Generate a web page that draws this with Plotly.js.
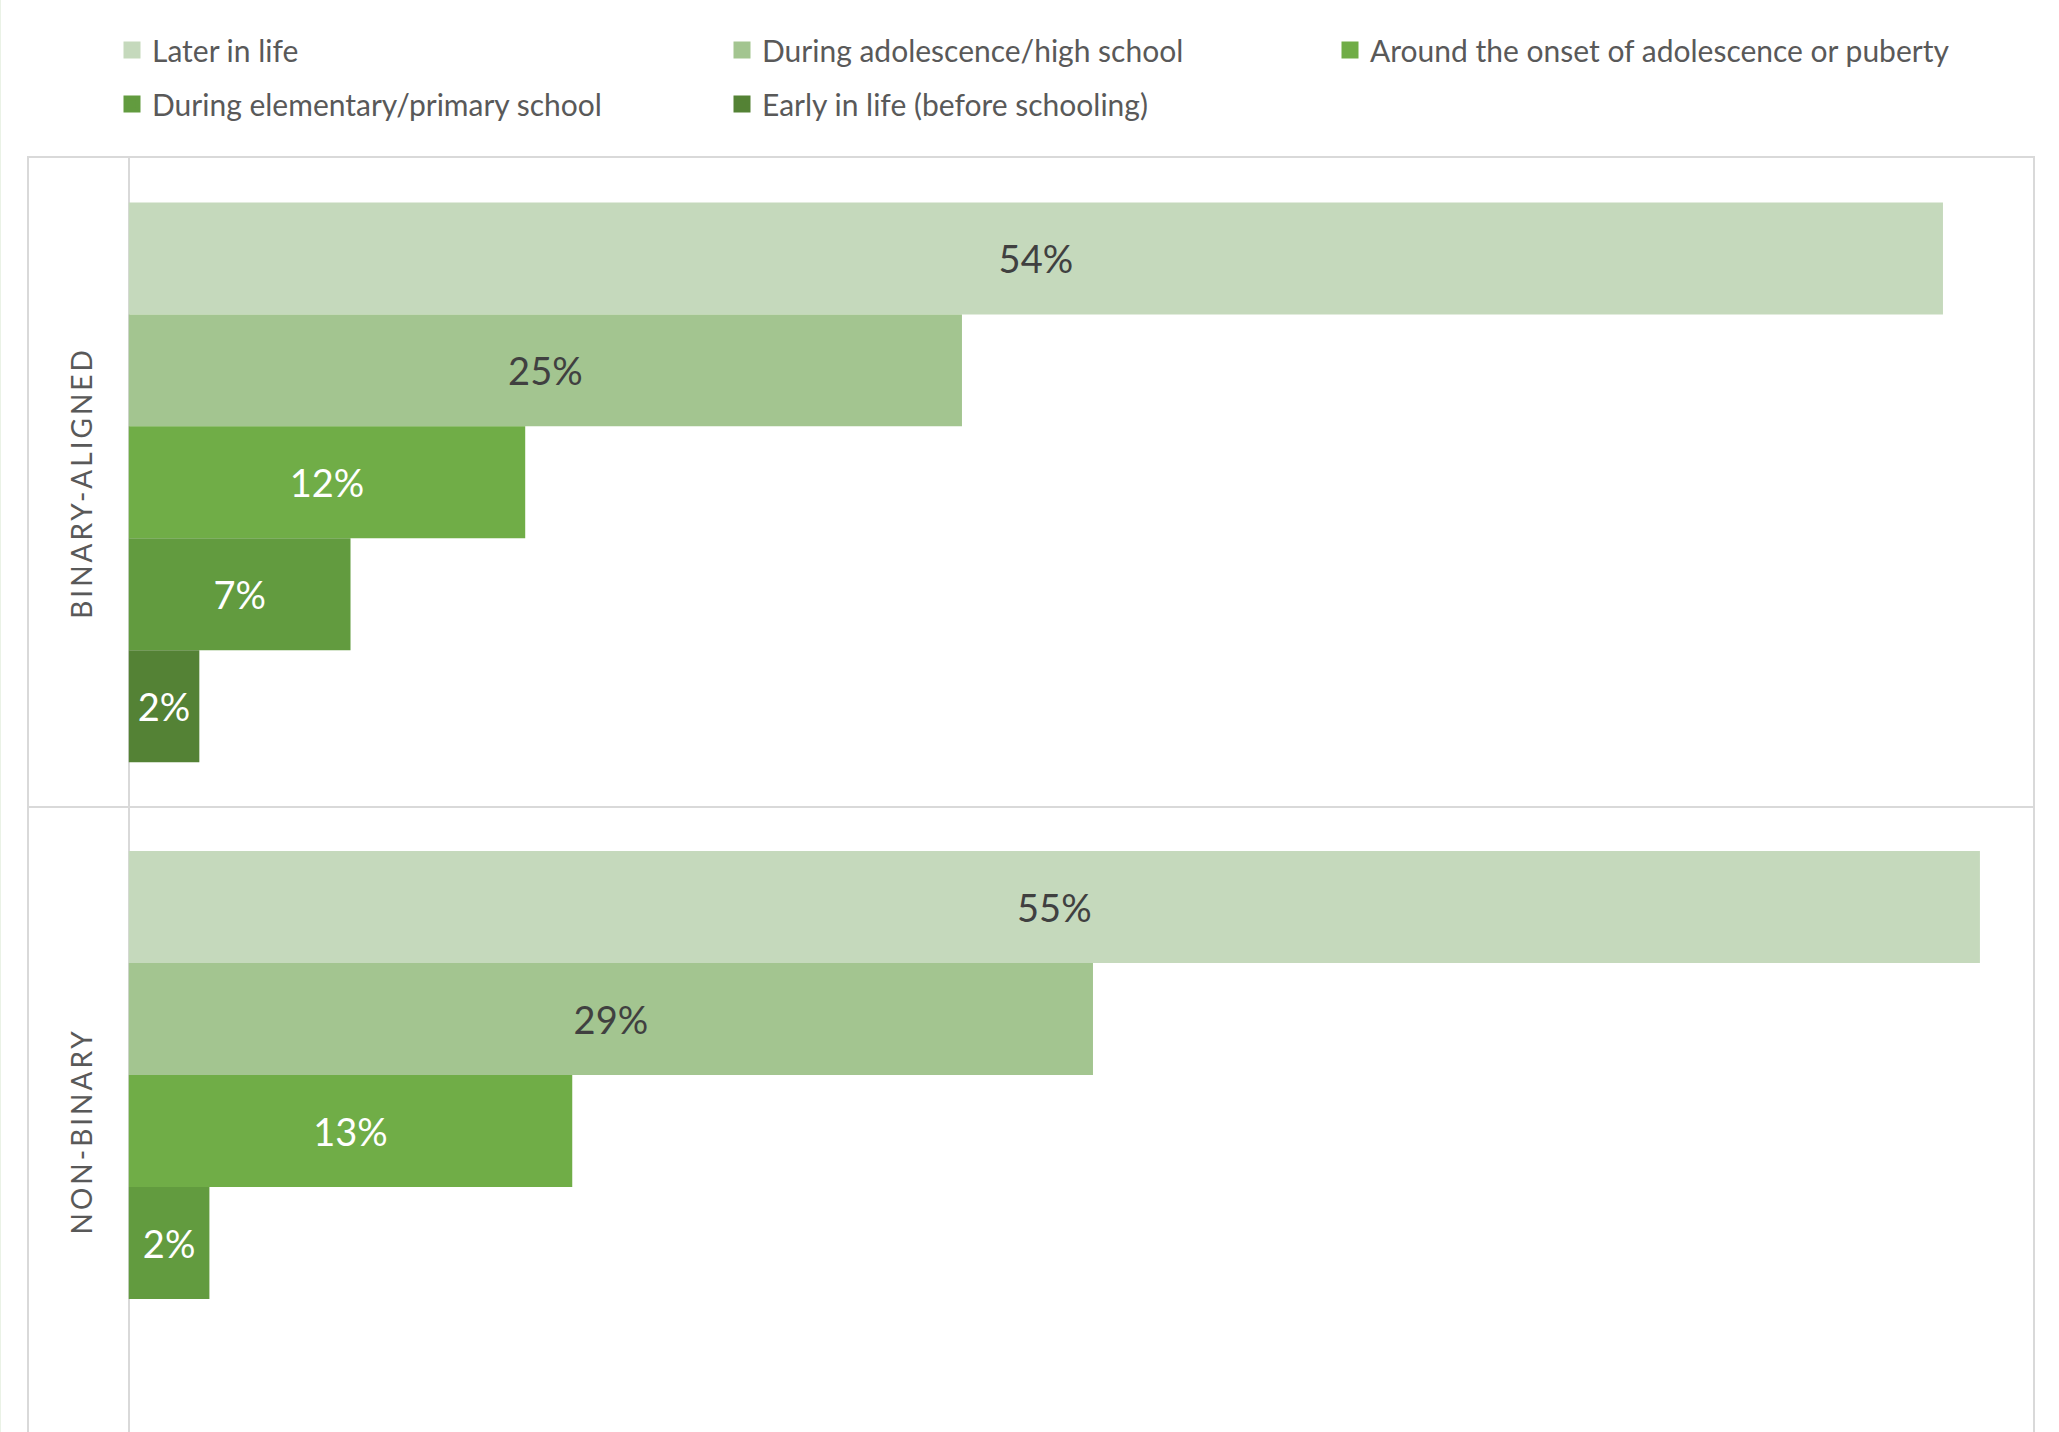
<!DOCTYPE html>
<html>
<head>
<meta charset="utf-8">
<script src="https://cdn.plot.ly/plotly-3.0.1.min.js"></script>
<style>
html, body { margin: 0; padding: 0; background: #ffffff; }
#chart { width: 2059px; height: 1432px; }
.annotation-text { letter-spacing: 3px; }
.legendpoints path { stroke-width: 5px !important; }
</style>
</head>
<body>
<div id="chart"></div>
<script>
// ---- Data ----
const groups = ["Binary-aligned", "Non-binary"];
const groupLabels = ["BINARY-ALIGNED", "NON-BINARY"];
const seriesNames = [
  "Later in life",
  "During adolescence/high school",
  "Around the onset of adolescence or puberty",
  "During elementary/primary school",
  "Early in life (before schooling)"
];
const laterInLife       = [54.0, 55.1];
const duringAdolescence = [24.8, 28.7];
const onsetOfPuberty    = [11.8, 13.2];
const elementarySchool  = [6.6, 2.4];
const earlyInLife       = [2.1, null];

// ---- Styling ----
const seriesValues = [laterInLife, duringAdolescence, onsetOfPuberty, elementarySchool, earlyInLife];
const seriesColors = ["#C5D9BC", "#A3C590", "#70AD47", "#629B3F", "#548235"];
const labelColors  = ["#404040", "#404040", "#FFFFFF", "#FFFFFF", "#FFFFFF"];
const legendOf     = ["legend", "legend", "legend3", "legend2", "legend2"];
const FONT = "Lato, 'Open Sans', sans-serif";
const GRID = "#D9D9D9";

const traces = seriesValues.map((vals, i) => ({
  type: "bar",
  orientation: "h",
  name: seriesNames[i],
  x: vals,
  y: groups,
  marker: { color: seriesColors[i], line: { width: 0.01, color: seriesColors[i] } },
  texttemplate: "%{x:.0f}%",
  textposition: "inside",
  insidetextanchor: "middle",
  textangle: 0,
  textfont: { family: FONT, size: 38, color: labelColors[i] },
  hoverinfo: "skip",
  legend: legendOf[i]
}));

const legendBase = {
  orientation: "h",
  xref: "container",
  yref: "container",
  xanchor: "left",
  yanchor: "middle",
  entrywidth: 565,
  entrywidthmode: "pixels",
  bgcolor: "rgba(0,0,0,0)",
  borderwidth: 0,
  traceorder: "normal",
  font: { family: FONT, size: 30, color: "#595959" }
};

const plotW = 2059 - 29 - 26;
const plotH = 1432 - 158;

const layout = {
  width: 2059,
  height: 1432,
  margin: { l: 29, r: 26, t: 158, b: 0, autoexpand: false },
  paper_bgcolor: "#ffffff",
  plot_bgcolor: "#ffffff",
  barmode: "group",
  bargap: 0.137,
  bargroupgap: 0,
  showlegend: true,
  legend:  Object.assign({}, legendBase, { x: 112 / 2059, y: 1 - 50 / 1432 }),
  legend2: Object.assign({}, legendBase, { x: 112 / 2059, y: 1 - 104 / 1432 }),
  legend3: Object.assign({}, legendBase, { x: 1330 / 2059, y: 1 - 50 / 1432, entrywidth: 680 }),
  xaxis: {
    range: [-2.97, 56.68],
    side: "top",
    showgrid: false,
    zeroline: true,
    zerolinecolor: GRID,
    zerolinewidth: 2,
    showticklabels: false,
    ticks: "",
    showline: true,
    linecolor: GRID,
    linewidth: 2,
    fixedrange: true
  },
  yaxis: {
    type: "category",
    categoryorder: "array",
    categoryarray: groups,
    range: [1.464, -0.5],
    tickson: "boundaries",
    showgrid: true,
    gridcolor: GRID,
    gridwidth: 2,
    showticklabels: false,
    ticks: "",
    showline: true,
    mirror: true,
    linecolor: GRID,
    linewidth: 2,
    zeroline: false,
    fixedrange: true
  },
  shapes: [{
    type: "line", xref: "paper", yref: "paper",
    x0: -28.5 / plotW, x1: -28.5 / plotW,
    y0: 0, y1: 1 + 158 / plotH,
    line: { color: "#EAF2E6", width: 1 }
  }],
  annotations: groups.map((g, i) => ({
    x: -1.41, xref: "x",
    y: g, yref: "y",
    text: groupLabels[i],
    textangle: -90,
    showarrow: false,
    xanchor: "center",
    yanchor: "middle",
    font: { family: FONT, size: 28, color: "#595959" }
  }))
};

Plotly.newPlot("chart", traces, layout, { displayModeBar: false, staticPlot: true });
</script>
</body>
</html>
